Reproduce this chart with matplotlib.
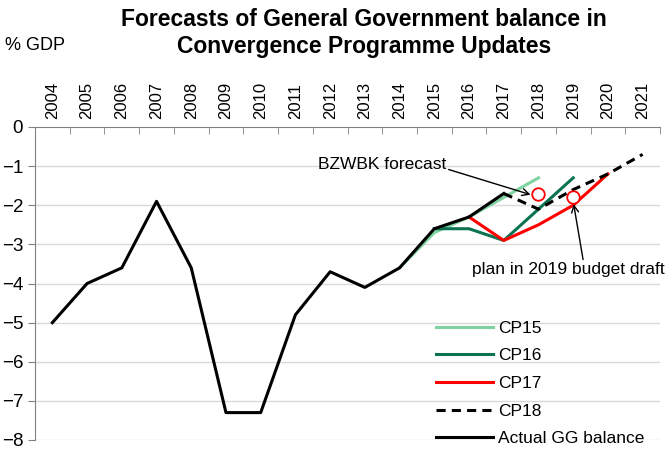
import numpy as np
import matplotlib
matplotlib.use('Agg')
import matplotlib.pyplot as plt

plt.rcParams['font.family'] = ['Liberation Sans', 'DejaVu Sans']

years = [str(y) for y in range(2004, 2022)]

# actual general government balance, % GDP
actual_years = list(range(2004, 2018))
actual = [-5.0, -4.0, -3.6, -1.9, -3.6, -7.3, -7.3, -4.8, -3.7, -4.1, -3.6, -2.6, -2.3, -1.7]

cp15_years = [2014, 2015, 2016, 2017, 2018]
cp15 = [-3.6, -2.7, -2.3, -1.8, -1.3]

cp16_years = [2015, 2016, 2017, 2018, 2019]
cp16 = [-2.6, -2.6, -2.9, -2.1, -1.3]

cp17_years = [2016, 2017, 2018, 2019, 2020]
cp17 = [-2.3, -2.9, -2.5, -2.0, -1.2]

cp18_years = [2017, 2018, 2019, 2020, 2021]
cp18 = [-1.7, -2.1, -1.6, -1.2, -0.7]

bzwbk_year, bzwbk_val = 2018, -1.7
plan_year, plan_val = 2019, -1.8

def pos(yrs):
    return [y - 2004 for y in yrs]

fig = plt.figure(figsize=(6.7, 4.5), dpi=100)
ax = fig.add_axes([35/670, 10/450, 625/670, 313/450])

for v in range(-8, 0):
    ax.axhline(v, color='#d9d9d9', lw=1, zorder=0)

ax.plot(pos(cp15_years), cp15, color='#7fd3a0', lw=2.2, label='CP15')
ax.plot(pos(cp16_years), cp16, color='#0b7352', lw=2.2, label='CP16')
ax.plot(pos(cp17_years), cp17, color='#ff0000', lw=2.2, label='CP17')
ax.plot(pos(cp18_years), cp18, color='black', lw=2.2, ls=(0, (3, 2)), label='CP18')
ax.plot(pos(actual_years), actual, color='black', lw=2.2, label='Actual GG balance')

ax.plot(pos([bzwbk_year]), [bzwbk_val], 'o', ms=9, mfc='white', mec='red', mew=1.3, zorder=5)
ax.plot(pos([plan_year]), [plan_val], 'o', ms=9, mfc='white', mec='red', mew=1.3, zorder=5)

ax.annotate('BZWBK forecast', xy=(bzwbk_year - 2004 - 0.15, bzwbk_val - 0.05),
            xytext=(7.64, -0.95), fontsize=12.5, ha='left', va='center',
            arrowprops=dict(arrowstyle='->', color='black', lw=1, shrinkA=0, shrinkB=2,
                            relpos=(1.0, 0.2)))
ax.annotate('plan in 2019 budget draft', xy=(plan_year - 2004, plan_val - 0.1),
            xytext=(12.08, -3.65), fontsize=12.5, ha='left', va='center',
            arrowprops=dict(arrowstyle='->', color='black', lw=1, shrinkA=0, shrinkB=2,
                            relpos=(0.58, 1.0)))

ax.set_xlim(-0.5, 17.5)
ax.set_ylim(-8, 0)
ax.xaxis.tick_top()
ax.set_xticks(np.arange(18))
ax.set_xticklabels(years, rotation=90, fontsize=12)
ax.set_xticks(np.arange(-0.5, 18, 1), minor=True)
ax.tick_params(axis='x', which='major', length=0, pad=6)
ax.tick_params(axis='x', which='minor', length=5, direction='in', color='#808080')
ax.set_yticks(range(-8, 1))
ax.tick_params(axis='y', labelsize=13.5, length=5, color='#808080')

for s in ['right', 'bottom']:
    ax.spines[s].set_visible(False)
for s in ['left', 'top']:
    ax.spines[s].set_color('#808080')

ax.legend(loc='upper left', bbox_to_anchor=(420/670, 1 - 305/450), bbox_transform=fig.transFigure,
          frameon=False, fontsize=12.5, handlelength=3.3, handletextpad=0.3, labelspacing=0.72)

fig.text(364/670, 1 - 19/450, 'Forecasts of General Government balance in', ha='center', va='center',
         fontsize=16.5, fontweight='bold')
fig.text(364/670, 1 - 47/450, 'Convergence Programme Updates', ha='center', va='center',
         fontsize=16.5, fontweight='bold')
fig.text(5/670, 1 - 45/450, '% GDP', ha='left', va='center', fontsize=13)

fig.savefig('out.png', dpi=100)
